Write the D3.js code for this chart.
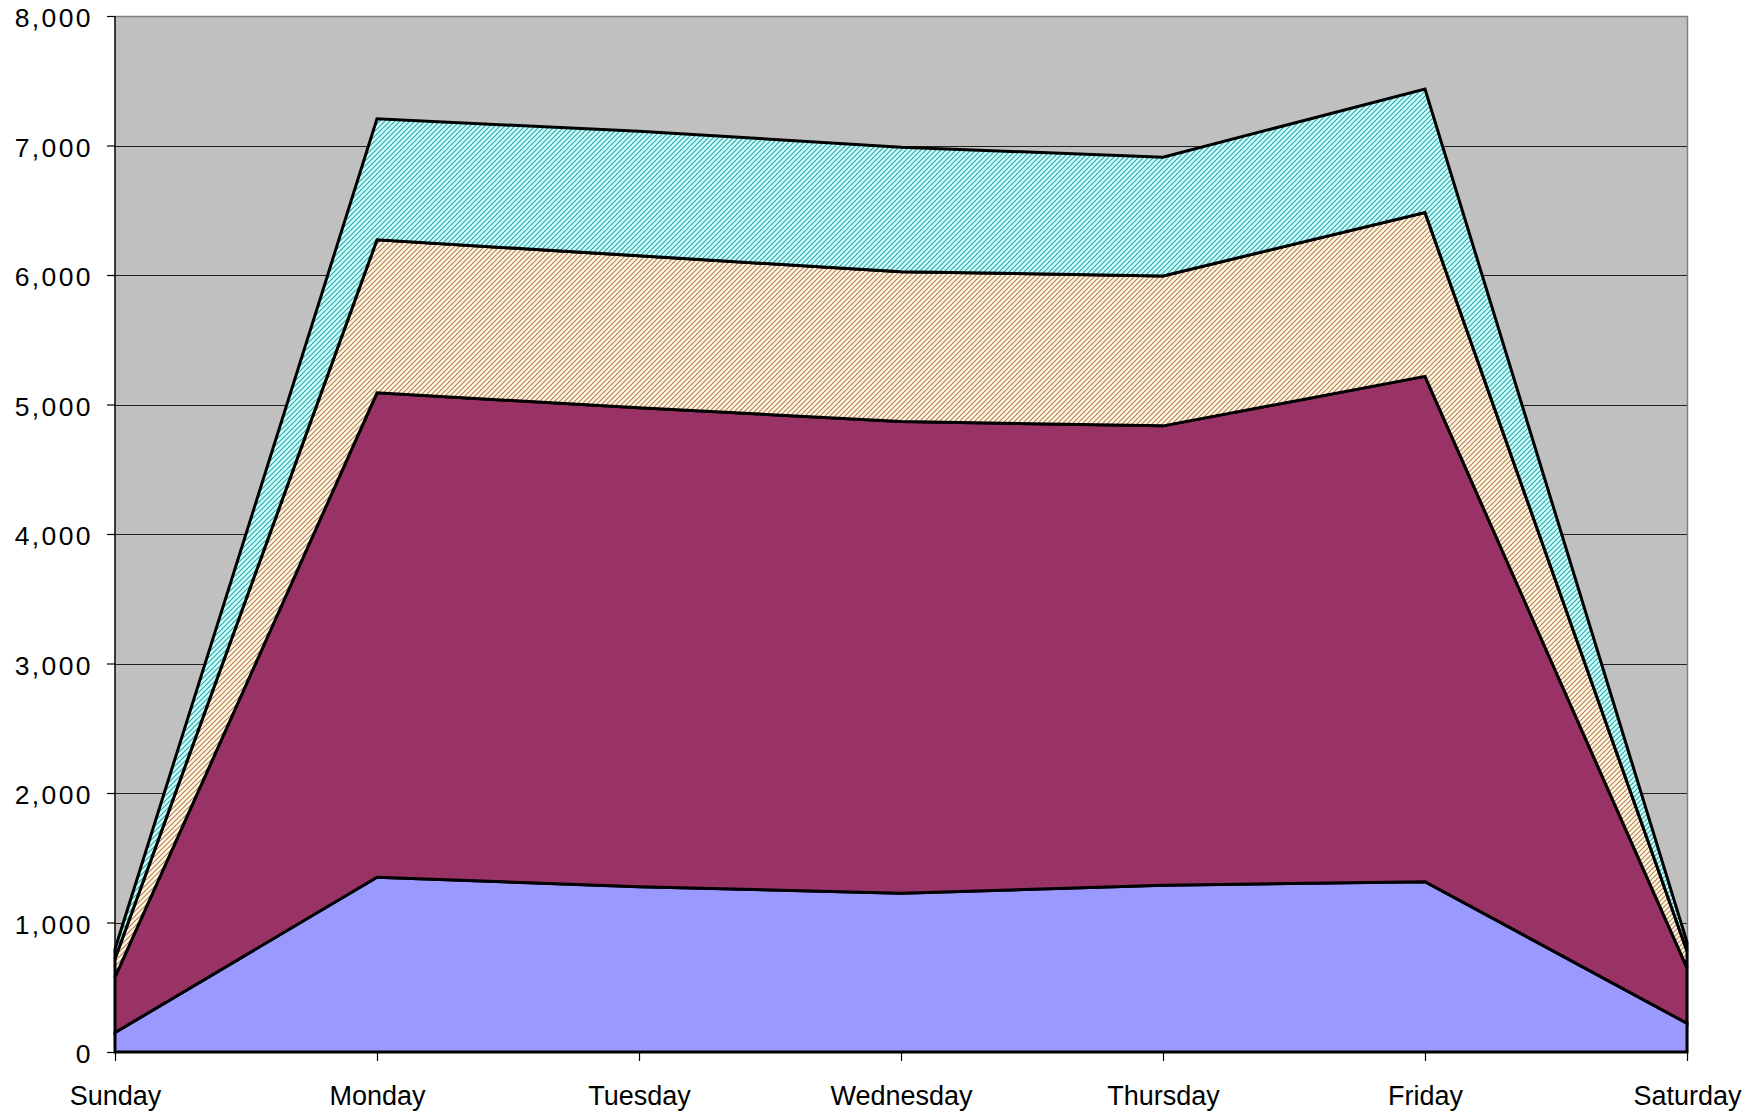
<!DOCTYPE html>
<html>
<head>
<meta charset="utf-8">
<script src="https://cdn.jsdelivr.net/npm/d3@7"></script>
<style>
  body { margin: 0; background: #fff; }
  text { font-family: "Liberation Sans", Arial, sans-serif; fill: #000; }
  .ylab { font-size: 26.5px; letter-spacing: 2.4px; }
  .xlab { font-size: 27px; }
</style>
</head>
<body>
<svg id="chart"></svg>
<script>
"use strict";
const days = ["Sunday", "Monday", "Tuesday", "Wednesday", "Thursday", "Friday", "Saturday"];
// stacked series, bottom to top
const seriesBlue   = [150, 1350, 1277, 1225, 1288, 1315, 222];
const seriesPurple = [428, 3740, 3698, 3643, 3547, 3902, 428];
const seriesCream  = [142, 1182, 1173, 1157, 1158, 1266, 130];
const seriesCyan   = [75, 934, 962, 962, 917, 953, 68];
const yTicks = [0, 1000, 2000, 3000, 4000, 5000, 6000, 7000, 8000];

const margin = {top: 16, right: 75, bottom: 61, left: 115},
    width  = 1762 - margin.left - margin.right,
    height = 1113 - margin.top - margin.bottom;

const keys = ["blue", "purple", "cream", "cyan"];
const table = days.map((d, i) => ({
    day: d,
    blue: seriesBlue[i],
    purple: seriesPurple[i],
    cream: seriesCream[i],
    cyan: seriesCyan[i]
}));

const root = d3.select("#chart")
    .attr("width", 1762)
    .attr("height", 1113);

// hatch patterns (upward diagonal)
const defs = root.append("defs");
function hatch(id, bg, fg) {
    const p = defs.append("pattern")
        .attr("id", id)
        .attr("patternUnits", "userSpaceOnUse")
        .attr("width", 5)
        .attr("height", 5);
    p.append("rect").attr("width", 5).attr("height", 5).attr("fill", bg);
    p.append("path")
        .attr("d", "M-1,6 L6,-1 M-1,1 L1,-1 M4,6 L6,4")
        .attr("stroke", fg)
        .attr("stroke-width", 1.1);
}
hatch("hatchCyan", "#ccffff", "#33a3a3");
hatch("hatchCream", "#ffffcc", "#bb6f8e");

const fills = {
    blue: "#9999ff",
    purple: "#993366",
    cream: "url(#hatchCream)",
    cyan: "url(#hatchCyan)"
};

const svg = root.append("g")
    .attr("transform", "translate(" + margin.left + "," + margin.top + ")");

const xScale = d3.scalePoint().domain(days).range([0, width]).padding(0);
const yScale = d3.scaleLinear().domain([0, 8000]).range([height, 0]);

// plot background
svg.append("rect")
    .attr("width", width)
    .attr("height", height)
    .attr("fill", "#c0c0c0");

// gridlines
svg.append("g")
    .selectAll("line")
    .data(yTicks.filter(t => t > 0 && t < 8000))
  .enter().append("line")
    .attr("x1", 0)
    .attr("x2", width)
    .attr("y1", d => Math.round(yScale(d)) + 0.5)
    .attr("y2", d => Math.round(yScale(d)) + 0.5)
    .attr("stroke", "#202020")
    .attr("stroke-width", 1);

// plot border (top/right)
svg.append("path")
    .attr("d", "M0,0.5 H" + (width + 0.5) + " V" + height)
    .attr("fill", "none")
    .attr("stroke", "#808080")
    .attr("stroke-width", 1.5);

// stacked areas
const stacked = d3.stack().keys(keys)(table);
const area = d3.area()
    .x(d => xScale(d.data.day))
    .y0(d => yScale(d[0]))
    .y1(d => yScale(d[1]));

svg.selectAll(".layer")
    .data(stacked)
  .enter().append("path")
    .attr("class", "layer")
    .attr("d", area)
    .attr("fill", d => fills[d.key])
    .attr("stroke", "#000")
    .attr("stroke-width", 3)
    .attr("stroke-linejoin", "miter");

// axes
const yAxis = d3.axisLeft(yScale)
    .tickValues(yTicks)
    .tickSize(8)
    .tickPadding(0)
    .tickFormat(d3.format(","));
const yg = svg.append("g").call(yAxis);
yg.select(".domain").attr("stroke", "#000").attr("stroke-width", 1.5)
    .attr("d", "M0,0 V" + height);
yg.selectAll(".tick line").attr("stroke", "#000").attr("stroke-width", 1.2);
yg.selectAll(".tick text")
    .attr("class", "ylab")
    .attr("x", -22)
    .attr("dy", "0.4em");
yg.attr("font-size", null).attr("font-family", null);

const xAxis = d3.axisBottom(xScale)
    .tickSize(9)
    .tickPadding(25);
const xg = svg.append("g")
    .attr("transform", `translate(0, ${height})`)
    .call(xAxis);
xg.select(".domain").attr("stroke", "#000").attr("stroke-width", 2)
    .attr("d", "M0,0 H" + width);
xg.selectAll(".tick line").attr("stroke", "#000").attr("stroke-width", 1.2);
xg.selectAll(".tick text")
    .attr("class", "xlab")
    .attr("dy", "0.71em");
xg.attr("font-size", null).attr("font-family", null);
</script>
</body>
</html>
